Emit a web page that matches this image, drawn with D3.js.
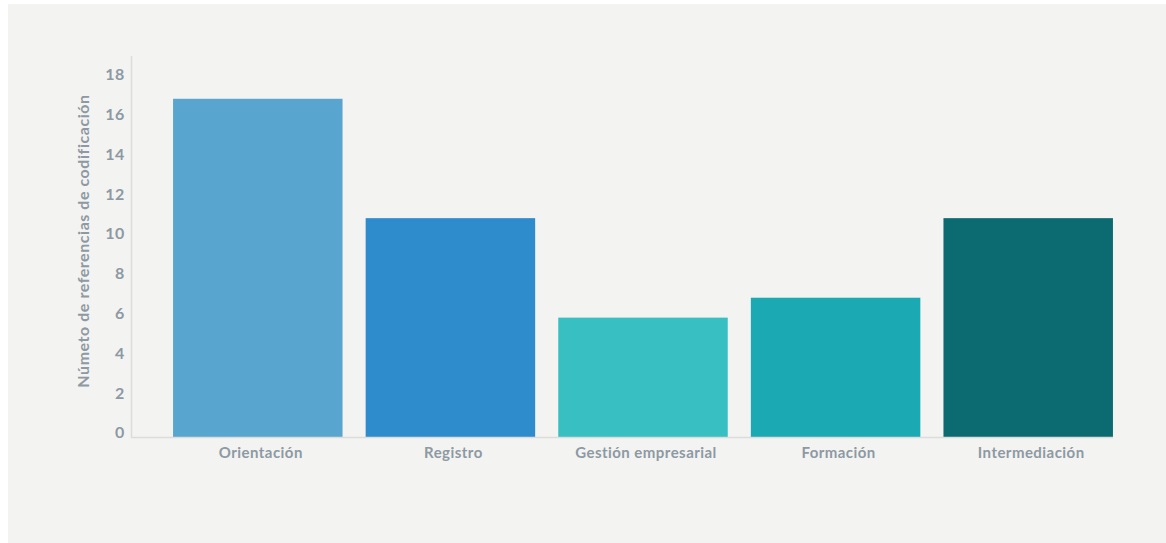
<!DOCTYPE html>
<html>
<head>
<meta charset="utf-8">
<script src="https://cdn.jsdelivr.net/npm/d3@7"></script>
<style>
  html, body { margin: 0; padding: 0; background: #ffffff; }
  .tick-label { font-family: Lato, "Open Sans", sans-serif; font-weight: 700; fill: #8d99a3; }
</style>
</head>
<body>
<div id="chart"></div>
<script>
// data
var categories = ["Orientación", "Registro", "Gestión empresarial", "Formación", "Intermediación"];
var values = [17, 11, 6, 7, 11];
var colors = ["#58a5cf", "#2e8bcc", "#37bfc2", "#1ba9b3", "#0b6b70"];
var yTicks = [0, 2, 4, 6, 8, 10, 12, 14, 16, 18];
var yTitle = "Númeto de referencias de codificación";

var width = 1166, height = 543;

var svg = d3.select("#chart").append("svg")
    .attr("width", width)
    .attr("height", height);

// panel background
svg.append("rect")
    .attr("x", 8).attr("y", 4)
    .attr("width", width - 8).attr("height", height - 4)
    .attr("fill", "#f3f3f1");

var x0 = 131.5, x1 = 1113, yBase = 437, yTop = 56;

var x = d3.scaleBand()
    .domain(categories)
    .range([161.5, 1124.5])
    .paddingInner(0.12)
    .paddingOuter(0.06);

var y = d3.scaleLinear()
    .domain([0, 19.15])
    .range([yBase, yTop]);

// bars
svg.selectAll(".bar")
    .data(categories)
    .enter().append("rect")
    .attr("class", "bar")
    .attr("x", function(d) { return x(d); })
    .attr("width", x.bandwidth())
    .attr("y", function(d, i) { return y(values[i]); })
    .attr("height", function(d, i) { return yBase - y(values[i]); })
    .attr("fill", function(d, i) { return colors[i]; });

// axis lines
svg.append("line")
    .attr("x1", x0).attr("x2", x0)
    .attr("y1", yTop).attr("y2", yBase + 1)
    .attr("stroke", "#dcdcdc").attr("stroke-width", 1.5);

svg.append("line")
    .attr("x1", x0).attr("x2", x1)
    .attr("y1", yBase + 0.5).attr("y2", yBase + 0.5)
    .attr("stroke", "#dcdcdc").attr("stroke-width", 1.5);

// y tick labels
var yAxis = d3.axisLeft(y).tickValues(yTicks).tickSize(0).tickPadding(7);
var gy = svg.append("g")
    .attr("transform", "translate(" + x0 + ",0)")
    .call(yAxis);
gy.select(".domain").remove();
gy.selectAll("text")
    .attr("class", "tick-label")
    .attr("dy", "0.05em")
    .style("font-size", "16px")
    .style("letter-spacing", "0.3px");

// x tick labels
var xAxis = d3.axisBottom(x).tickSize(0).tickPadding(10);
var gx = svg.append("g")
    .attr("transform", "translate(0," + yBase + ")")
    .call(xAxis);
gx.select(".domain").remove();
gx.selectAll("text")
    .attr("class", "tick-label")
    .attr("dx", 3)
    .style("font-size", "15px")
    .style("letter-spacing", "0.45px");

// y title
svg.append("text")
    .attr("class", "tick-label")
    .attr("transform", "translate(89,241) rotate(-90)")
    .attr("text-anchor", "middle")
    .style("font-size", "16px")
    .style("letter-spacing", "0.55px")
    .text(yTitle);
</script>
</body>
</html>
